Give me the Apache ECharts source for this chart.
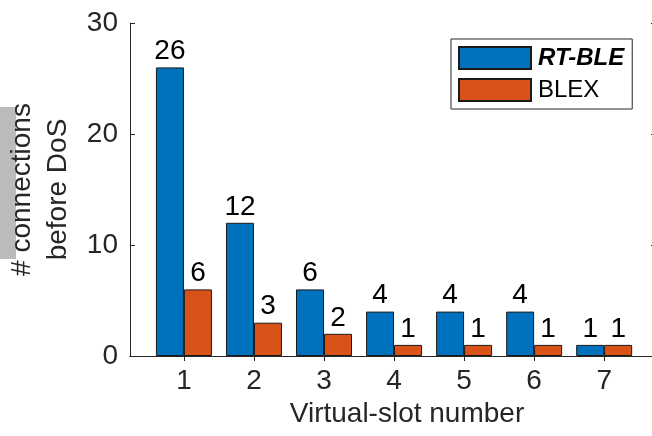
<!DOCTYPE html>
<html>
<head>
<meta charset="utf-8">
<script src="https://cdn.jsdelivr.net/npm/echarts@6/dist/echarts.min.js"></script>
<style>
html,body{margin:0;padding:0;background:#fff;}
#chart{width:652px;height:436px;}
</style>
</head>
<body>
<div id="chart"></div>
<script>
const categories = ['1', '2', '3', '4', '5', '6', '7'];
const slotPositions = [1, 2, 3, 4, 5, 6, 7];
const rtBle = [26, 12, 6, 4, 4, 4, 1];
const blex = [6, 3, 2, 1, 1, 1, 1];
const yTicks = [0, 10, 20, 30];
const seriesNames = ['RT-BLE', 'BLEX'];

const FONT = '"Liberation Sans", Arial, sans-serif';
const AX = '#262626';
const chart = echarts.init(document.getElementById('chart'));

// frame: x from 0.23 to 7.74 over 526 px => ~70 px per slot
const X_MIN = 0.23, X_MAX = 7.74, FRAME_LEFT = 130, FRAME_W = 526;
const UNIT = FRAME_W / (X_MAX - X_MIN);
const BAR_LEFT = FRAME_LEFT + (1 - X_MIN) * UNIT - UNIT / 2;

const labelStyle = { show: true, position: 'top', distance: 2, fontSize: 28, fontFamily: FONT, color: '#000' };
const axisLineStyle = { show: true, lineStyle: { color: AX, width: 1 } };

chart.setOption({
  animation: false,
  textStyle: { fontFamily: FONT },
  grid: [
    { left: FRAME_LEFT, top: 23, width: FRAME_W, height: 333, containLabel: false, outerBoundsMode: 'none' },
    { left: BAR_LEFT, top: 23, width: UNIT * categories.length, height: 333, containLabel: false, outerBoundsMode: 'none' }
  ],
  graphic: [{
    type: 'rect', left: 0, top: 107, shape: { width: 16, height: 152 },
    style: { fill: '#bcbaba' }, silent: true
  }],
  legend: {
    orient: 'vertical', left: 451, top: 39,
    padding: [7, 8, 7, 7], itemGap: 8,
    itemWidth: 72, itemHeight: 22, icon: 'rect',
    borderColor: AX, borderWidth: 1, backgroundColor: '#fff',
    data: seriesNames,
    formatter: n => n === 'RT-BLE' ? '{b|' + n + '}' : '{n|' + n + '}',
    textStyle: {
      fontFamily: FONT, color: '#000',
      rich: {
        b: { fontSize: 24, fontWeight: 'bold', fontStyle: 'italic', fontFamily: FONT, color: '#000', padding: [0, 0, 0, 2] },
        n: { fontSize: 24, fontFamily: FONT, color: '#000', padding: [0, 0, 0, 2] }
      }
    }
  },
  xAxis: [{
    gridIndex: 0, type: 'value', min: X_MIN, max: X_MAX, position: 'bottom',
    name: 'Virtual-slot number', nameLocation: 'middle', nameGap: 42,
    nameTextStyle: { fontSize: 28, fontFamily: FONT, color: AX, padding: [0, 0, 0, 28] },
    axisLine: axisLineStyle,
    axisTick: { show: true, inside: true, length: 5, lineStyle: { color: AX }, customValues: slotPositions },
    axisLabel: { fontSize: 28, fontFamily: FONT, color: AX, margin: 11, customValues: slotPositions,
      formatter: v => categories[slotPositions.indexOf(Math.round(v))] || '' },
    splitLine: { show: false }
  }, {
    gridIndex: 0, type: 'value', min: X_MIN, max: X_MAX, position: 'top',
    axisLine: axisLineStyle,
    axisTick: { show: true, inside: true, length: 5, lineStyle: { color: AX }, customValues: slotPositions },
    axisLabel: { show: false },
    splitLine: { show: false }
  }, {
    gridIndex: 1, type: 'category', data: categories, boundaryGap: true, show: false
  }],
  yAxis: [{
    gridIndex: 0, type: 'value', min: 0, max: 30, interval: 10, position: 'left',
    name: '# connections\nbefore DoS', nameLocation: 'middle', nameGap: 47, nameRotate: 90,
    nameTextStyle: { fontSize: 28, fontFamily: FONT, color: AX, lineHeight: 36 },
    axisLine: axisLineStyle,
    axisTick: { show: true, inside: true, length: 5, lineStyle: { color: AX } },
    axisLabel: { fontSize: 28, fontFamily: FONT, color: AX, margin: 12 },
    splitLine: { show: false }
  }, {
    gridIndex: 0, type: 'value', min: 0, max: 30, interval: 10, position: 'right',
    axisLine: axisLineStyle,
    axisTick: { show: true, inside: true, length: 5, lineStyle: { color: AX } },
    axisLabel: { show: false },
    splitLine: { show: false }
  }, {
    gridIndex: 1, type: 'value', min: 0, max: 30, interval: 10, show: false
  }],
  series: [{
    name: seriesNames[0], type: 'bar', xAxisIndex: 2, yAxisIndex: 2,
    data: rtBle, barWidth: 28, barGap: '0%',
    itemStyle: { color: '#0072BD', borderColor: '#1a1a1a', borderWidth: 1 },
    label: labelStyle
  }, {
    name: seriesNames[1], type: 'bar', xAxisIndex: 2, yAxisIndex: 2,
    data: blex, barWidth: 28, barGap: '0%',
    itemStyle: { color: '#D95319', borderColor: '#1a1a1a', borderWidth: 1 },
    label: labelStyle
  }]
});
</script>
</body>
</html>
